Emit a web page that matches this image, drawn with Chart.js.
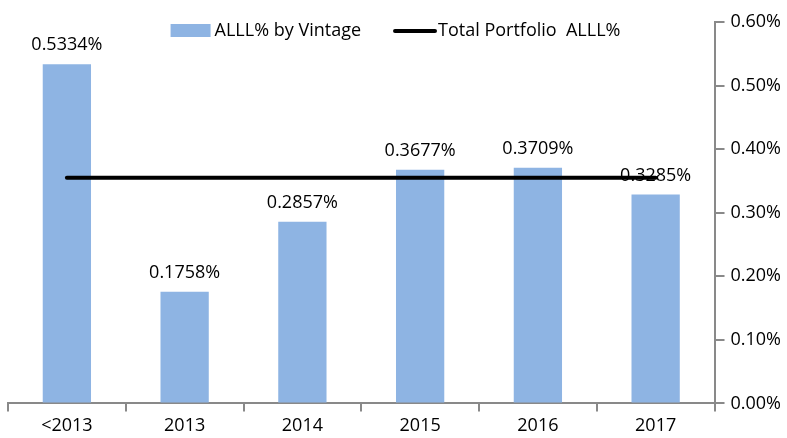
<!DOCTYPE html>
<html>
<head>
<meta charset="utf-8">
<script src="https://cdn.jsdelivr.net/npm/chart.js@4/dist/chart.umd.min.js"></script>
<style>
  html, body { margin: 0; padding: 0; background: #ffffff; }
  #wrap { width: 787px; height: 438px; }
</style>
</head>
<body>
<div id="wrap"><canvas id="c" width="787" height="438"></canvas></div>
<script>
const categories = ['<2013', '2013', '2014', '2015', '2016', '2017'];
const vintageValues = [0.5334, 0.1758, 0.2857, 0.3677, 0.3709, 0.3285];
const totalPortfolioValue = 0.355;
const totalValues = categories.map(() => totalPortfolioValue);
const yTicks = [0, 0.1, 0.2, 0.3, 0.4, 0.5, 0.6];
const seriesNames = ['ALLL% by Vintage', 'Total Portfolio  ALLL%'];

const FONT = '"Open Sans", "Liberation Sans", sans-serif';
const BAR_COLOR = '#8EB4E3';
const AXIS_COLOR = '#898989';

const barLabels = {
  id: 'barLabels',
  afterDatasetsDraw(chart) {
    const ctx = chart.ctx;
    const meta = chart.getDatasetMeta(1);
    ctx.save();
    ctx.font = '18px ' + FONT;
    ctx.fillStyle = '#000';
    ctx.textAlign = 'center';
    ctx.textBaseline = 'bottom';
    meta.data.forEach((el, i) => {
      ctx.fillText(vintageValues[i].toFixed(4) + '%', el.x, el.y - 10);
    });
    ctx.restore();
  }
};

const customLegend = {
  id: 'customLegend',
  afterDraw(chart) {
    const ctx = chart.ctx;
    ctx.save();
    ctx.font = '18px ' + FONT;
    ctx.textBaseline = 'middle';
    ctx.textAlign = 'left';
    const boxW = 40, gap = 4, spacing = 33;
    const w1 = ctx.measureText(seriesNames[0]).width;
    const w2 = ctx.measureText(seriesNames[1]).width;
    const total = boxW + gap + w1 + spacing + boxW + gap + w2;
    let x = chart.width / 2 + 2 - total / 2;
    const cy = 31;
    ctx.fillStyle = BAR_COLOR;
    ctx.fillRect(x, cy - 7, boxW, 13);
    x += boxW + gap;
    ctx.fillStyle = '#000';
    ctx.fillText(seriesNames[0], x, cy);
    x += w1 + spacing;
    ctx.strokeStyle = '#000';
    ctx.lineWidth = 4;
    ctx.lineCap = 'round';
    ctx.beginPath();
    ctx.moveTo(x + 1, cy);
    ctx.lineTo(x + boxW + 1, cy);
    ctx.stroke();
    x += boxW + gap;
    ctx.fillText(seriesNames[1], x, cy);
    ctx.restore();
  }
};

new Chart(document.getElementById('c'), {
  data: {
    labels: categories,
    datasets: [
      {
        type: 'line',
        label: seriesNames[1],
        data: totalValues,
        borderColor: '#000',
        borderWidth: 4,
        borderCapStyle: 'round',
        pointRadius: 0,
        fill: false,
        order: 0
      },
      {
        type: 'bar',
        label: seriesNames[0],
        data: vintageValues,
        backgroundColor: BAR_COLOR,
        borderWidth: 0,
        categoryPercentage: 1,
        barPercentage: 0.41,
        order: 1
      }
    ]
  },
  options: {
    responsive: false,
    animation: false,
    devicePixelRatio: 1,
    layout: { padding: { left: 8, right: 0, top: 22, bottom: -3 } },
    plugins: {
      legend: { display: false },
      tooltip: { enabled: false }
    },
    scales: {
      x: {
        offset: true,
        grid: {
          display: true,
          drawOnChartArea: false,
          offset: true,
          tickLength: 8,
          color: AXIS_COLOR,
          lineWidth: 2
        },
        border: { display: true, color: AXIS_COLOR, width: 2 },
        ticks: {
          color: '#000',
          font: { family: FONT, size: 18 },
          padding: 4,
          maxRotation: 0
        }
      },
      y: {
        position: 'right',
        min: 0,
        max: 0.6,
        afterBuildTicks(axis) { axis.ticks = yTicks.map(v => ({ value: v })); },
        grid: {
          display: true,
          drawOnChartArea: false,
          tickLength: 10,
          color: AXIS_COLOR,
          lineWidth: 2
        },
        border: { display: true, color: AXIS_COLOR, width: 2 },
        ticks: {
          color: '#000',
          font: { family: FONT, size: 18 },
          padding: 6,
          callback: (v) => Number(v).toFixed(2) + '%'
        }
      }
    }
  },
  plugins: [barLabels, customLegend]
});
</script>
</body>
</html>
